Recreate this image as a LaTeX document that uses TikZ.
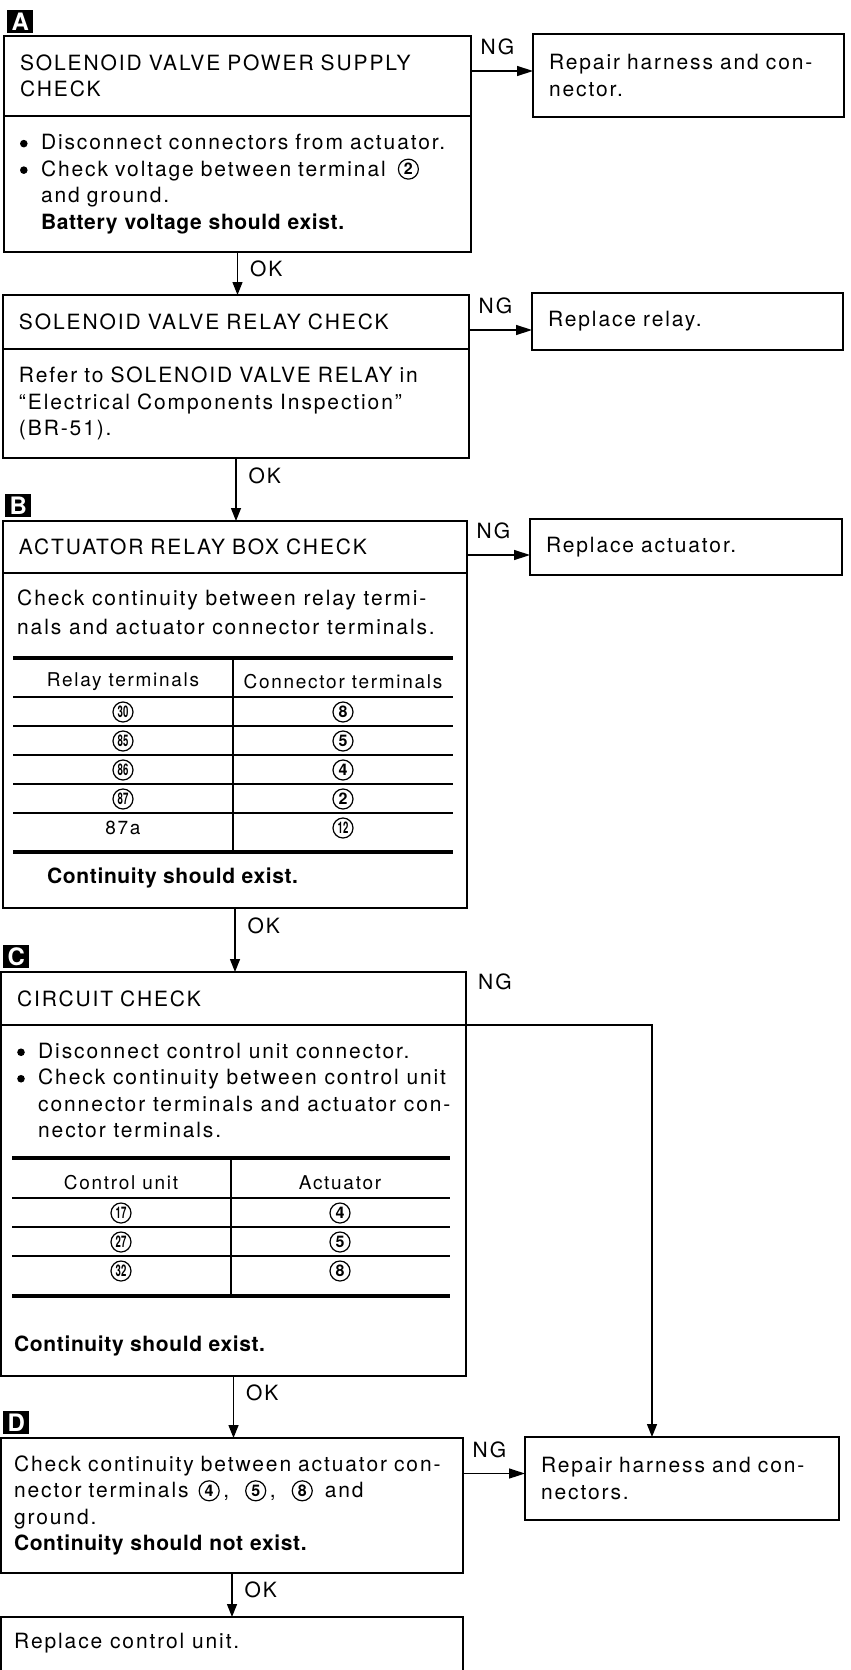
\documentclass[tikz,border=0pt]{standalone}
\usepackage{fontspec}
\setmainfont{TeX Gyre Heros}[UprightFeatures={LetterSpace=9},BoldFeatures={LetterSpace=3}]
\usepackage{graphicx}
\usetikzlibrary{arrows.meta,positioning}

\tikzset{
  chkbox/.style={draw, rectangle, line width=1.8pt, anchor=north west, outer sep=0pt,
    inner xsep=16pt, inner ysep=0pt, align=left, font=\fontsize{21}{26.5}\selectfont},
  bodytxt/.style={anchor=west, align=left, inner sep=0pt, font=\fontsize{21}{26.5}\selectfont},
  boldtxt/.style={bodytxt, font=\bfseries\fontsize{21}{26.5}\selectfont},
  badge/.style={fill=black, text=white, inner sep=0pt, minimum width=26pt, minimum height=23pt,
    font=\bfseries\fontsize{24}{24}\selectfont},
  flowlbl/.style={inner sep=0pt, anchor=base west, font=\fontsize{21}{21}\selectfont},
  okarrow/.style={line width=1.4pt, -{Triangle[length=13pt,width=10pt]}},
  ngarrow/.style={line width=1.4pt, -{Triangle[length=16pt,width=10pt]}},
  thead/.style={inner sep=0pt, font=\fontsize{19}{19}\selectfont},
  cell/.style={inner sep=0pt, font=\fontsize{19}{19}\selectfont},
  thickrule/.style={line width=4pt},
  thinrule/.style={line width=1.3pt},
  colrule/.style={line width=1.8pt},
}

% circled terminal number, optional arg squeezes two digits
\newcommand{\cnum}[2][1]{\tikz[baseline={(0pt,-7pt)}]\node[anchor=center, circle, draw,
  line width=1.2pt, inner sep=0pt, minimum size=20pt, font=\bfseries\fontsize{16}{16}\selectfont]
  {\scalebox{#1}[1]{#2}};}
\newcommand{\blt}{\makebox[21pt][l]{\tikz[baseline={(0pt,-6pt)}]\fill (4pt,0pt) circle (3.8pt);}}
\newcommand{\bltpad}{\hspace*{21pt}}

\begin{document}
\begin{tikzpicture}[x=1pt, y=-1pt]
\useasboundingbox (0,0) rectangle (851,1670);

% A: power supply
\node[chkbox, minimum width=467pt, text width=435pt, minimum height=80pt] (a1) at (4,36)
  {SOLENOID VALVE POWER SUPPLY\\CHECK};
\node[chkbox, below=0pt of a1, minimum width=467pt, text width=435pt, minimum height=136pt] (a2)
  {\blt Disconnect connectors from actuator.\\
   \blt Check voltage between terminal\hspace{12pt}\cnum{2}\\
   \bltpad and ground.\\
   \bltpad\textbf{Battery voltage should exist.}};
\node[badge, above=3pt of a1.north west, anchor=south west, xshift=3pt] (ta) {A};
\node[chkbox, minimum width=311pt, text width=279pt, minimum height=83pt] (ra) at (533,34)
  {Repair harness and con-\\nector.};

% relay check
\node[chkbox, minimum width=466pt, text width=434pt, minimum height=54pt] (s1) at (3,295)
  {SOLENOID VALVE RELAY CHECK};
\node[chkbox, below=0pt of s1, minimum width=466pt, text width=434pt, minimum height=109pt] (s2)
  {Refer to SOLENOID VALVE RELAY in\\``Electrical Components Inspection''\\(BR-51).};
\node[chkbox, minimum width=311pt, text width=279pt, minimum height=57pt] (rs) at (532,293)
  {Replace relay.};

% B: relay box
\node[chkbox, minimum width=464pt, text width=432pt, minimum height=52pt] (b1) at (3,521)
  {ACTUATOR RELAY BOX CHECK};
\node[chkbox, below=0pt of b1, minimum width=464pt, minimum height=335pt] (b2) {};
\node[badge, above=4pt of b1.north west, anchor=south west, xshift=2pt] (tb) {B};
\node[chkbox, minimum width=312pt, text width=280pt, minimum height=56pt] (rb) at (530,519)
  {Replace actuator.};
\node[bodytxt] (btxt) at (17,612.5)
  {Check continuity between relay termi-\\[2.5pt]nals and actuator connector terminals.};
\draw[thickrule] (13,658) -- (453,658);
\draw[thickrule] (13,852) -- (453,852);
\draw[colrule] (233,658) -- (233,852);
\foreach \y in {697,726,755,784,813}
  \draw[thinrule] (13,\y) -- (453,\y);
\node[thead] (bh1) at (123,682) {Relay terminals};
\node[thead] (bh2) at (343,682) {Connector terminals};
\foreach \rt/\ct [count=\i] in {30/8,85/5,86/4,87/2} {
  \node[cell] (bl\i) at (123,{683+29*\i}) {\cnum[0.6]{\rt}};
  \node[cell] (br\i) at (343,{683+29*\i}) {\cnum{\ct}};
}
\node[cell] (bl5) at (123,828) {87a};
\node[cell] (br5) at (343,828) {\cnum[0.6]{12}};
\node[boldtxt] (bres) at (47,878) {Continuity should exist.};

% C: circuit
\node[chkbox, minimum width=465pt, text width=433pt, minimum height=53pt] (c1) at (1,972)
  {CIRCUIT CHECK};
\node[chkbox, below=0pt of c1, minimum width=465pt, minimum height=351pt] (c2) {};
\node[badge, above=4pt of c1.north west, anchor=south west, xshift=2pt] (tc) {C};
\node[bodytxt] (ctxt) at (17,1090.5)
  {\blt Disconnect control unit connector.\\
   \blt Check continuity between control unit\\
   \bltpad connector terminals and actuator con-\\
   \bltpad nector terminals.};
\draw[thickrule] (12,1158) -- (450,1158);
\draw[thickrule] (12,1296) -- (450,1296);
\draw[colrule] (231,1158) -- (231,1296);
\foreach \y in {1198,1227,1256}
  \draw[thinrule] (12,\y) -- (450,\y);
\node[thead] (ch1) at (121,1183) {Control unit};
\node[thead] (ch2) at (340,1183) {Actuator};
\foreach \cu/\ac [count=\i] in {17/4,27/5,32/8} {
  \node[cell] (cl\i) at (121,{1184+29*\i}) {\cnum[0.6]{\cu}};
  \node[cell] (cr\i) at (340,{1184+29*\i}) {\cnum{\ac}};
}
\node[boldtxt] (cres) at (14,1346) {Continuity should exist.};

% D: short to ground
\node[chkbox, inner xsep=13pt, minimum width=462pt, text width=436pt, minimum height=135pt] (d1) at (1,1438)
  {Check continuity between actuator con-\\
   nector terminals\hspace{10pt}\cnum{4}\,,\hspace{16pt}\cnum{5}\,,\hspace{16pt}\cnum{8}\hspace{12pt}and\\
   ground.\\
   \textbf{Continuity should not exist.}};
\node[badge, above=4pt of d1.north west, anchor=south west, xshift=2pt] (td) {D};
\node[chkbox, minimum width=314pt, text width=282pt, minimum height=83pt] (rd) at (525,1437)
  {Repair harness and con-\\nectors.};

% last step, runs off the page
\node[chkbox, minimum width=462pt, minimum height=80pt] (fin) at (1,1617) {};
\node[bodytxt] (fintxt) at (14,1643) {Replace control unit.};

% OK branches
\draw[okarrow] (a2.south) -- (a2.south |- s1.north)
  node[flowlbl, at start, xshift=12pt, yshift=-24pt] {OK};
\draw[okarrow] (s2.south) -- (s2.south |- b1.north)
  node[flowlbl, at start, xshift=12pt, yshift=-25pt] {OK};
\draw[okarrow] (b2.south) -- (b2.south |- c1.north)
  node[flowlbl, at start, xshift=12pt, yshift=-25pt] {OK};
\draw[okarrow] (c2.south) -- (c2.south |- d1.north)
  node[flowlbl, at start, xshift=12pt, yshift=-24pt] {OK};
\draw[okarrow] (d1.south) -- (d1.south |- fin.north)
  node[flowlbl, at start, xshift=12pt, yshift=-24pt] {OK};

% NG branches
\coordinate (nga) at ([yshift=5pt]a1.east);
\draw[ngarrow] (nga) -- (nga -| ra.west)
  node[flowlbl, at start, xshift=9pt, yshift=16pt] {NG};
\coordinate (ngs) at ([yshift=-8pt]s1.east);
\draw[ngarrow] (ngs) -- (ngs -| rs.west)
  node[flowlbl, at start, xshift=9pt, yshift=17pt] {NG};
\coordinate (ngb) at ([yshift=-8pt]b1.east);
\draw[ngarrow] (ngb) -- (ngb -| rb.west)
  node[flowlbl, at start, xshift=9pt, yshift=17pt] {NG};
\coordinate (cturn) at (652,1025);
\draw[okarrow] (c1.south east) -- (cturn) -- (cturn |- rd.north);
\node[flowlbl] (ngc) at ([xshift=12pt,yshift=-17.5pt]c1.north east) {NG};
\coordinate (ngd) at ([yshift=5pt]rd.west);
\draw[ngarrow] (ngd -| d1.east) -- (ngd)
  node[flowlbl, at start, xshift=9pt, yshift=16pt] {NG};
\end{tikzpicture}
\end{document}
